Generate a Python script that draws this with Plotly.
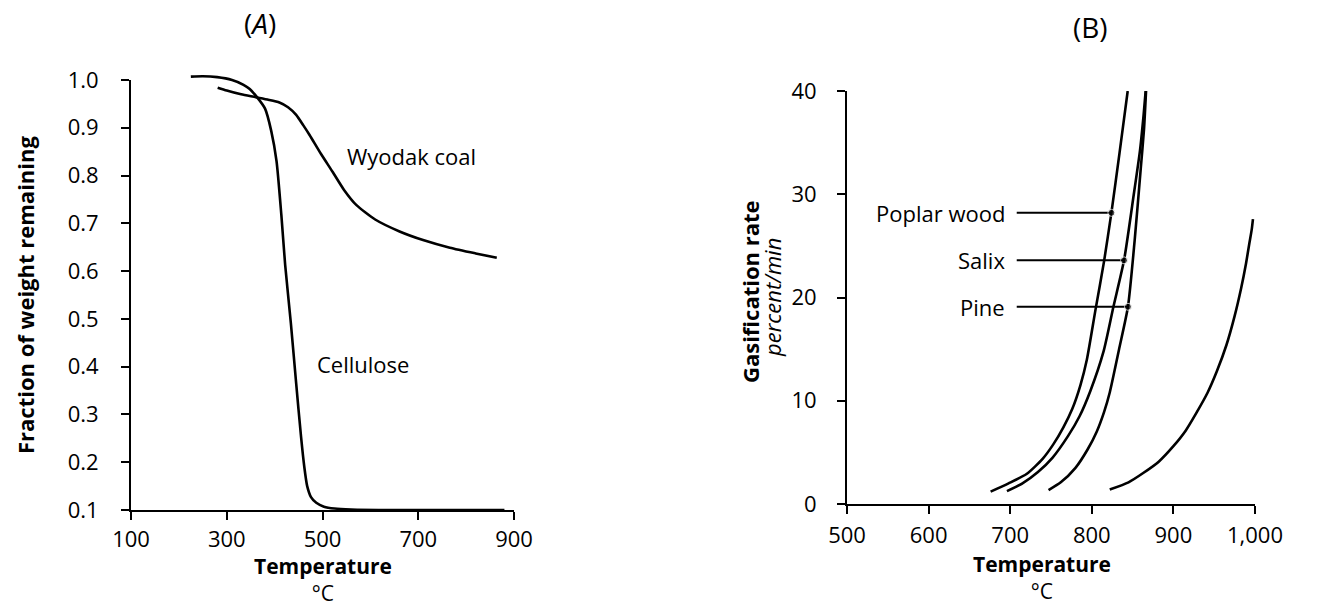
import plotly.graph_objects as go

W, H = 1320, 609
FONT = "Open Sans"

# ---------------- Panel A data ----------------
cellulose_T = [225, 250, 280, 311, 335, 348, 364, 380, 393, 404, 414, 422, 434, 445,
               455, 462, 468, 476, 487, 503, 525, 560, 650, 880]
cellulose_v = [1.007, 1.008, 1.006, 1.0, 0.99, 0.981, 0.963, 0.94, 0.893, 0.83, 0.718,
               0.613, 0.49, 0.365, 0.255, 0.19, 0.15, 0.127, 0.115, 0.107, 0.103, 0.101,
               0.100, 0.100]
coal_T = [281, 300, 330, 361, 385, 410, 428, 445, 460, 473, 497, 521, 545, 571, 610,
          661, 710, 766, 820, 864]
coal_v = [0.984, 0.978, 0.970, 0.964, 0.959, 0.953, 0.943, 0.927, 0.905, 0.885, 0.845,
          0.808, 0.77, 0.738, 0.708, 0.683, 0.665, 0.649, 0.637, 0.628]
a_xticks = [100, 300, 500, 700, 900]
a_yticks = [0.1, 0.2, 0.3, 0.4, 0.5, 0.6, 0.7, 0.8, 0.9, 1.0]

# ---------------- Panel B data ----------------
poplar_T = [676, 698, 720, 740, 753, 765, 776, 786, 794, 804.5, 815, 824, 834, 844]
poplar_R = [1.2, 2.0, 2.9, 4.4, 5.8, 7.4, 9.2, 11.5, 14.0, 18.8, 23.5, 28.2, 34.0, 40.0]
salix_T = [696, 715, 734, 752, 771, 785, 798, 814.5, 826.5, 839.5, 851.3, 859, 863.5, 866]
salix_R = [1.25, 2.0, 3.1, 4.5, 6.6, 8.5, 10.9, 14.8, 19.1, 23.6, 29.9, 34.2, 37.7, 40]
pine_T = [747, 762, 780, 795, 806, 815, 822, 834, 844.3, 852.5, 860, 864, 866.5]
pine_R = [1.35, 2.1, 3.5, 5.3, 7.0, 8.9, 10.8, 15.2, 19.1, 25.5, 32.5, 36.3, 40]
bcoal_T = [822, 845, 863, 882, 900, 915, 928, 942, 953, 965, 975, 983, 989, 993, 996, 997.5]
bcoal_R = [1.4, 2.1, 3.0, 4.1, 5.6, 7.1, 8.8, 10.8, 12.8, 15.4, 18.2, 20.9, 23.3, 25.2, 26.6, 27.6]

label_names = ["Poplar wood", "Salix", "Pine"]
label_dot_T = [824, 839.5, 844.3]
label_rate = [28.2, 23.6, 19.1]
leader_start_T = 708
label_text_T = 696

b_xticks = [500, 600, 700, 800, 900, 1000]
b_yticks = [0, 10, 20, 30, 40]

# ---------------- layout geometry (pixels) ----------------
A_x0, A_x1, A_y0, A_y1 = 131, 514, 80, 510   # plot area of panel A (top y0, bottom y1)
B_x0, B_x1, B_y0, B_y1 = 847, 1255, 91, 504
A_xr = [100, 900]
A_yr = [0.1, 1.0]
B_xr = [500, 1000]
B_yr = [0, 40]
PAD = 12  # extra pixels for the un-clipped data layer of panel A


def px_x(p):
    return p / W


def px_y(p):
    return 1 - p / H


line_style = dict(color="black", width=2.6)

fig = go.Figure()

# Panel A curves on an invisible, slightly larger layer aligned with the visible axes
fig.add_trace(go.Scatter(x=cellulose_T, y=cellulose_v, mode="lines", line=dict(shape="spline", smoothing=0.6, **line_style),
                         xaxis="x3", yaxis="y3", hoverinfo="skip", showlegend=False))
fig.add_trace(go.Scatter(x=coal_T, y=coal_v, mode="lines", line=dict(shape="spline", smoothing=0.6, **line_style),
                         xaxis="x3", yaxis="y3", hoverinfo="skip", showlegend=False))

# Panel B curves
for T, R in [(poplar_T, poplar_R), (salix_T, salix_R), (pine_T, pine_R), (bcoal_T, bcoal_R)]:
    fig.add_trace(go.Scatter(x=T, y=R, mode="lines", line=dict(shape="spline", smoothing=0.6, **line_style),
                             xaxis="x2", yaxis="y2", hoverinfo="skip", showlegend=False))

# Leader lines with dots
for name, tdot, r in zip(label_names, label_dot_T, label_rate):
    fig.add_trace(go.Scatter(x=[leader_start_T, tdot], y=[r, r], mode="lines+markers",
                             line=dict(color="black", width=2),
                             marker=dict(color="black", size=[0, 7]),
                             xaxis="x2", yaxis="y2", hoverinfo="skip", showlegend=False))

axis_common = dict(showgrid=False, zeroline=False, showline=True, linecolor="black", linewidth=2,
                   ticks="outside", ticklen=8, tickwidth=2, tickcolor="black", automargin=False,
                   tickfont=dict(family=FONT, size=22, color="black"))

a_yscale = (A_yr[1] - A_yr[0]) / (A_y1 - A_y0)

fig.update_layout(
    width=W, height=H,
    autosize=False,
    margin=dict(l=0, r=0, t=0, b=0, pad=0, autoexpand=False),
    showlegend=False,
    paper_bgcolor="white", plot_bgcolor="rgba(0,0,0,0)",
    xaxis=dict(domain=[px_x(A_x0), px_x(A_x1)], range=A_xr, tickvals=a_xticks, anchor="y",
               ticklabelstandoff=1, **axis_common),
    yaxis=dict(domain=[px_y(A_y1), px_y(A_y0)], range=A_yr, tickvals=a_yticks, tickformat=".1f",
               anchor="x", ticklabelstandoff=18, **axis_common),
    xaxis3=dict(domain=[px_x(A_x0), px_x(A_x1)], range=A_xr, visible=False, anchor="y3", automargin=False),
    yaxis3=dict(domain=[px_y(A_y1 + PAD), px_y(A_y0 - PAD)],
                range=[A_yr[0] - PAD * a_yscale, A_yr[1] + PAD * a_yscale], visible=False, anchor="x3",
                automargin=False),
    xaxis2=dict(domain=[px_x(B_x0), px_x(B_x1)], range=B_xr, tickvals=b_xticks, tickformat=",d",
                anchor="y2", ticklabelstandoff=3, **axis_common),
    yaxis2=dict(domain=[px_y(B_y1), px_y(B_y0)], range=B_yr, tickvals=b_yticks, anchor="x2",
                ticklabelstandoff=16, **axis_common),
)

ann = []


def paper_text(text, x, y, size=22, angle=0, xanchor="center", yanchor="middle", **kw):
    ann.append(dict(text=text, x=px_x(x), y=px_y(y), xref="paper", yref="paper", showarrow=False,
                    textangle=angle, xanchor=xanchor, yanchor=yanchor,
                    font=dict(family=FONT, size=size, color="black"), **kw))


# Panel titles
paper_text("(<i>A</i>)", 260, 23, size=28)
paper_text("(B)", 1090, 27, size=28)

# Panel A axis titles
paper_text("<b>Fraction of weight remaining</b>", 25, 295, angle=-90)
paper_text("<b>Temperature</b><br>°C", 323, 609, size=21, yanchor="bottom")

# Panel B axis titles
paper_text("<b>Gasification rate</b>", 750, 292, angle=-90)
paper_text("<i>percent/min</i>", 772, 298, angle=-90)
paper_text("<b>Temperature</b><br>°C", 1042, 607, size=21, yanchor="bottom")

# Curve labels panel A (data coordinates)
ann.append(dict(text="Wyodak coal", x=686, y=0.841, xref="x", yref="y", showarrow=False,
                font=dict(family=FONT, size=22, color="black")))
ann.append(dict(text="Cellulose", x=585, y=0.405, xref="x", yref="y", showarrow=False,
                font=dict(family=FONT, size=22, color="black")))

# Curve labels panel B
for name, r in zip(label_names, label_rate):
    ann.append(dict(text=name, x=label_text_T, y=r, xref="x2", yref="y2", showarrow=False,
                    xanchor="right", yanchor="middle", font=dict(family=FONT, size=22, color="black")))
ann.append(dict(text="Coal", x=bcoal_T[-1] + 12, y=26.6, xref="x2", yref="y2", showarrow=False,
                xanchor="left", yanchor="middle", font=dict(family=FONT, size=22, color="black")))

fig.update_layout(annotations=ann)

fig.write_html("out.html")
